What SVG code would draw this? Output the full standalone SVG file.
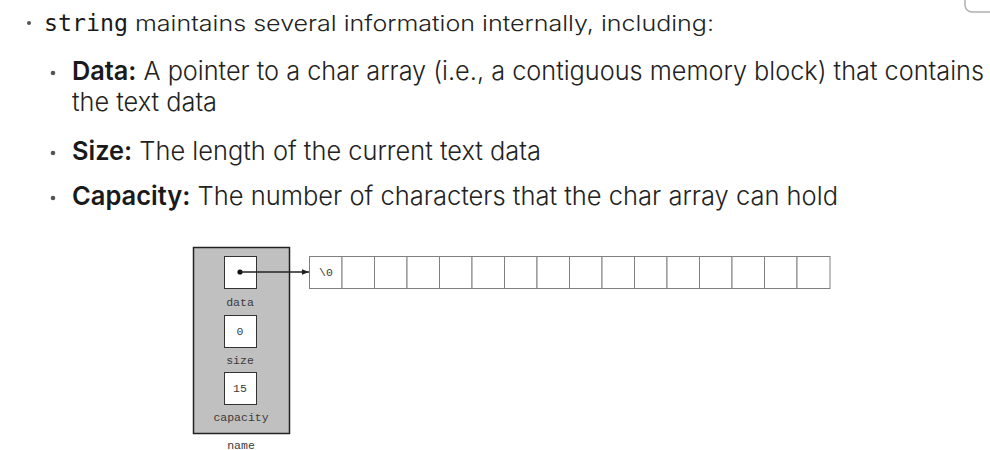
<svg xmlns="http://www.w3.org/2000/svg" width="990" height="450" viewBox="0 0 990 450">
<style>
.t{font-family:Inter,"Liberation Sans",sans-serif;fill:#222;font-weight:300}
.b{font-weight:600;fill:#1a1a1a}
.bul{fill:#555}
.mono{font-family:"Liberation Mono","DejaVu Sans Mono",monospace;font-size:11.5px;fill:#3a3a3a;text-anchor:middle}
.cell{fill:#fff;stroke:#808080;stroke-width:1}
.box{fill:#fff;stroke:#333;stroke-width:1}
</style>
<defs>
<marker id="ah" viewBox="0 0 10 10" refX="10" refY="5" markerWidth="7" markerHeight="7" markerUnits="userSpaceOnUse" orient="auto">
<path d="M0,1 L10,5 L0,9 Z" fill="#222"/>
</marker>
</defs>
<rect width="990" height="450" fill="#fff"/>
<rect x="965" y="-20" width="45" height="32" rx="7" fill="none" stroke="#b0b0b0" stroke-width="1.5"/>
<g id="text">
<circle class="bul" cx="29" cy="23" r="2"/>
<text x="44" y="31" font-family="'DejaVu Sans Mono','Liberation Mono',monospace" font-size="23" fill="#1a1a1a" textLength="84" lengthAdjust="spacingAndGlyphs">string</text>
<text class="t" x="135" y="31" font-size="22" textLength="579" lengthAdjust="spacingAndGlyphs">maintains several information internally, including:</text>
<circle class="bul" cx="53" cy="73" r="2.3"/>
<text class="t" x="72" y="80" font-size="26" textLength="912" lengthAdjust="spacingAndGlyphs"><tspan class="b">Data:</tspan> A pointer to a char array (i.e., a contiguous memory block) that contains</text>
<text class="t" x="72" y="111" font-size="26" textLength="145" lengthAdjust="spacingAndGlyphs">the text data</text>
<circle class="bul" cx="53" cy="153" r="2.3"/>
<text class="t" x="72" y="160" font-size="26" textLength="469" lengthAdjust="spacingAndGlyphs"><tspan class="b">Size:</tspan> The length of the current text data</text>
<circle class="bul" cx="53" cy="198" r="2.3"/>
<text class="t" x="72" y="205" font-size="26" textLength="766" lengthAdjust="spacingAndGlyphs"><tspan class="b">Capacity:</tspan> The number of characters that the char array can hold</text>
</g>
<g id="name">
<rect x="193.5" y="247.5" width="96" height="186" fill="#c0c0c0" stroke="#222" stroke-width="1.5"/>
<text class="mono" x="241" y="449">name</text>
</g>
<g id="data">
<rect class="box" x="224.5" y="256.5" width="32" height="32"/>
<circle cx="240" cy="272" r="2.6" fill="#111"/>
<text class="mono" x="240" y="306">data</text>
</g>
<g id="size">
<rect class="box" x="224.5" y="315.5" width="32" height="32"/>
<text class="mono" x="240" y="335">0</text>
<text class="mono" x="240" y="364">size</text>
</g>
<g id="capacity">
<rect class="box" x="224.5" y="372.5" width="32" height="32"/>
<text class="mono" x="240" y="392">15</text>
<text class="mono" x="241" y="421">capacity</text>
</g>
<g id="array">
<rect class="cell" x="309.5" y="256.5" width="32.5" height="32"/>
<rect class="cell" x="342" y="256.5" width="32.5" height="32"/>
<rect class="cell" x="374.5" y="256.5" width="32.5" height="32"/>
<rect class="cell" x="407" y="256.5" width="32.5" height="32"/>
<rect class="cell" x="439.5" y="256.5" width="32.5" height="32"/>
<rect class="cell" x="472" y="256.5" width="32.5" height="32"/>
<rect class="cell" x="504.5" y="256.5" width="32.5" height="32"/>
<rect class="cell" x="537" y="256.5" width="32.5" height="32"/>
<rect class="cell" x="569.5" y="256.5" width="32.5" height="32"/>
<rect class="cell" x="602" y="256.5" width="32.5" height="32"/>
<rect class="cell" x="634.5" y="256.5" width="32.5" height="32"/>
<rect class="cell" x="667" y="256.5" width="32.5" height="32"/>
<rect class="cell" x="699.5" y="256.5" width="32.5" height="32"/>
<rect class="cell" x="732" y="256.5" width="32.5" height="32"/>
<rect class="cell" x="764.5" y="256.5" width="32.5" height="32"/>
<rect class="cell" x="797" y="256.5" width="33" height="32"/>
<text class="mono" x="326" y="276" font-size="11">\0</text>
</g>
<g id="connectors">
<line x1="240" y1="272" x2="309" y2="272" stroke="#222" stroke-width="1.3" marker-end="url(#ah)"/>
</g>
</svg>
